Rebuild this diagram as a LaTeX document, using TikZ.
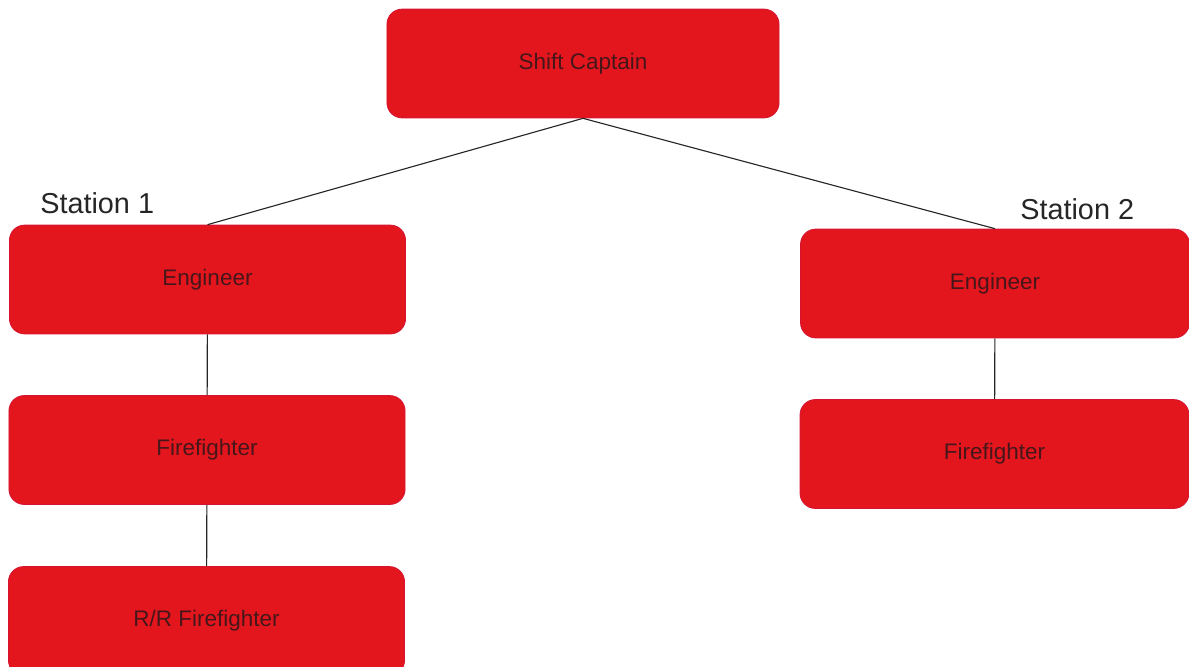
\documentclass[tikz,border=0pt]{standalone}
\usepackage{fontspec}
\setmainfont{Liberation Sans}
\usepackage{tikz}
\usetikzlibrary{positioning}
\definecolor{chartred}{RGB}{227, 22, 30}
\definecolor{chartedge}{RGB}{214, 20, 50}
\definecolor{labelink}{RGB}{70, 22, 26}

\begin{document}
\begin{tikzpicture}[x=0.025cm, y=-0.025cm,
        rolebox/.style={draw=chartedge, line width=0.6pt, fill=chartred, rounded corners=0.38cm, minimum width=9.9cm, minimum height=2.72cm, inner sep=0pt, text=labelink, font=\fontsize{16}{19}\selectfont},
        station/.style={text=black!85, font=\fontsize{20.5}{24}\selectfont, inner sep=0pt},
        link/.style={draw=black!85, line width=0.8pt}]
        \useasboundingbox (0, 0) rectangle (1189, 666);
        \clip (0, 0) rectangle (1189, 666);

        % Top of the chart
        \node[rolebox, minimum width=9.8cm] (captain) at (583, 63.5) {Shift Captain};

        % Station 1 column
        \node[station, anchor=west] (st1) at (40, 203) {Station 1};
        \node[rolebox] (eng1) at (207.5, 279.5) {Engineer};
        \node[rolebox] (ff1) at (207, 450) {Firefighter};
        \node[rolebox] (rr1) at (206.5, 621) {R/R Firefighter};

        % Station 2 column
        \node[station, anchor=west] (st2) at (1020, 209) {Station 2};
        \node[rolebox, minimum width=9.72cm] (eng2) at (995, 283.5) {Engineer};
        \node[rolebox, minimum width=9.72cm] (ff2) at (994.5, 454) {Firefighter};

        % Connectors
        \draw[link] (captain.south) -- (eng1.north);
        \draw[link] (captain.south) -- (eng2.north);
        \draw[link] (eng1) -- (ff1);
        \draw[link] (ff1) -- (rr1);
        \draw[link] (eng2) -- (ff2);
    \end{tikzpicture}
\end{document}
